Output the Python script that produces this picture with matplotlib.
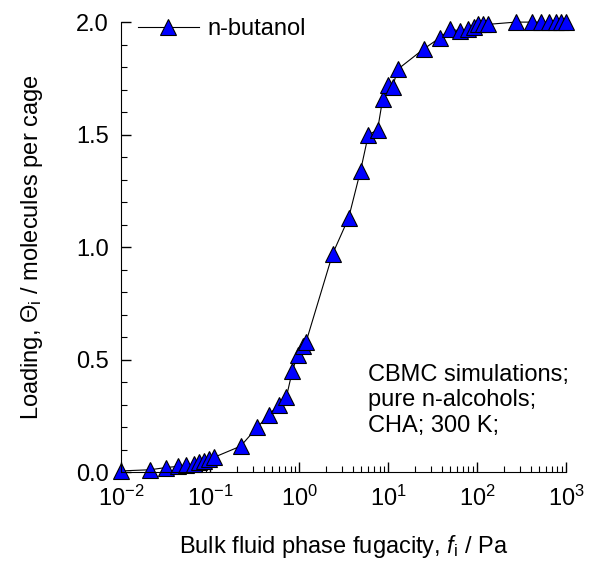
import matplotlib
matplotlib.use("Agg")
import matplotlib.pyplot as plt
from matplotlib.ticker import MultipleLocator, LogLocator, NullFormatter

plt.rcParams["font.family"] = ["Liberation Sans", "DejaVu Sans"]
plt.rcParams["mathtext.fontset"] = "custom"
plt.rcParams["mathtext.rm"] = "Liberation Sans"
plt.rcParams["mathtext.it"] = "Liberation Sans:italic"

# n-butanol in CHA at 300 K, CBMC
fugacity = [0.01, 0.021, 0.032, 0.043, 0.054, 0.065, 0.075, 0.085, 0.097, 0.11,
            0.22, 0.34, 0.46, 0.59, 0.72, 0.84, 0.96, 1.1, 1.2,
            2.38, 3.6, 4.9, 6.0, 7.6, 8.7, 9.9, 11.2, 12.8,
            25, 38, 50, 64, 79, 92, 102, 117, 133,
            270, 410, 520, 640, 770, 880, 1000]
loading = [0.005, 0.01, 0.02, 0.025, 0.03, 0.035, 0.045, 0.05, 0.06, 0.065,
           0.115, 0.2, 0.255, 0.30, 0.335, 0.45, 0.52, 0.56, 0.58,
           0.97, 1.13, 1.34, 1.50, 1.52, 1.66, 1.72, 1.71, 1.79,
           1.88, 1.93, 1.97, 1.96, 1.97, 1.98, 1.99, 1.99, 1.99,
           2.0, 2.0, 2.0, 2.0, 2.0, 2.0, 2.0]

fs = 17

fig = plt.figure(figsize=(6.12, 5.67), dpi=100)
ax = fig.add_axes([0.198, 0.1675, 0.727, 0.7935])

ax.plot(fugacity, loading, color="black", lw=0.8, marker="^", ms=11,
        mfc="#0000ff", mec="black", mew=0.8, label="n-butanol", clip_on=False)

ax.set_xscale("log")
ax.set_xlim(0.01, 1000)
ax.set_ylim(0, 2.0)
ax.yaxis.set_major_locator(MultipleLocator(0.5))
ax.yaxis.set_minor_locator(MultipleLocator(0.1))
ax.yaxis.set_major_formatter(plt.FormatStrFormatter("%.1f"))
ax.xaxis.set_major_locator(LogLocator(base=10, numticks=10))
ax.xaxis.set_minor_locator(LogLocator(base=10, subs=range(2, 10), numticks=20))
ax.xaxis.set_minor_formatter(NullFormatter())

for s in ["top", "right"]:
    ax.spines[s].set_visible(False)
ax.tick_params(which="both", direction="in", labelsize=fs)
ax.tick_params(which="major", length=7, width=1)
ax.tick_params(which="minor", length=4, width=0.8)
ax.tick_params(axis="x", pad=10)
ax.tick_params(axis="y", pad=9)

ax.set_xlabel(r"Bulk fluid phase fugacity, $\mathit{f}_\mathrm{i}$ / Pa",
              fontsize=fs, labelpad=16)
ax.set_ylabel(r"Loading, $\Theta_\mathrm{i}$ / molecules per cage",
              fontsize=fs, labelpad=22)

ax.text(0.555, 0.24, "CBMC simulations;\npure n-alcohols;\nCHA; 300 K;",
        transform=ax.transAxes, fontsize=fs, va="top", ha="left",
        linespacing=1.2)

ax.legend(loc="upper left", frameon=False, fontsize=fs,
          bbox_to_anchor=(0.0, 1.045), handlelength=2.6, borderaxespad=0.3,
          handletextpad=0.35)

fig.savefig("out.png", dpi=100)
